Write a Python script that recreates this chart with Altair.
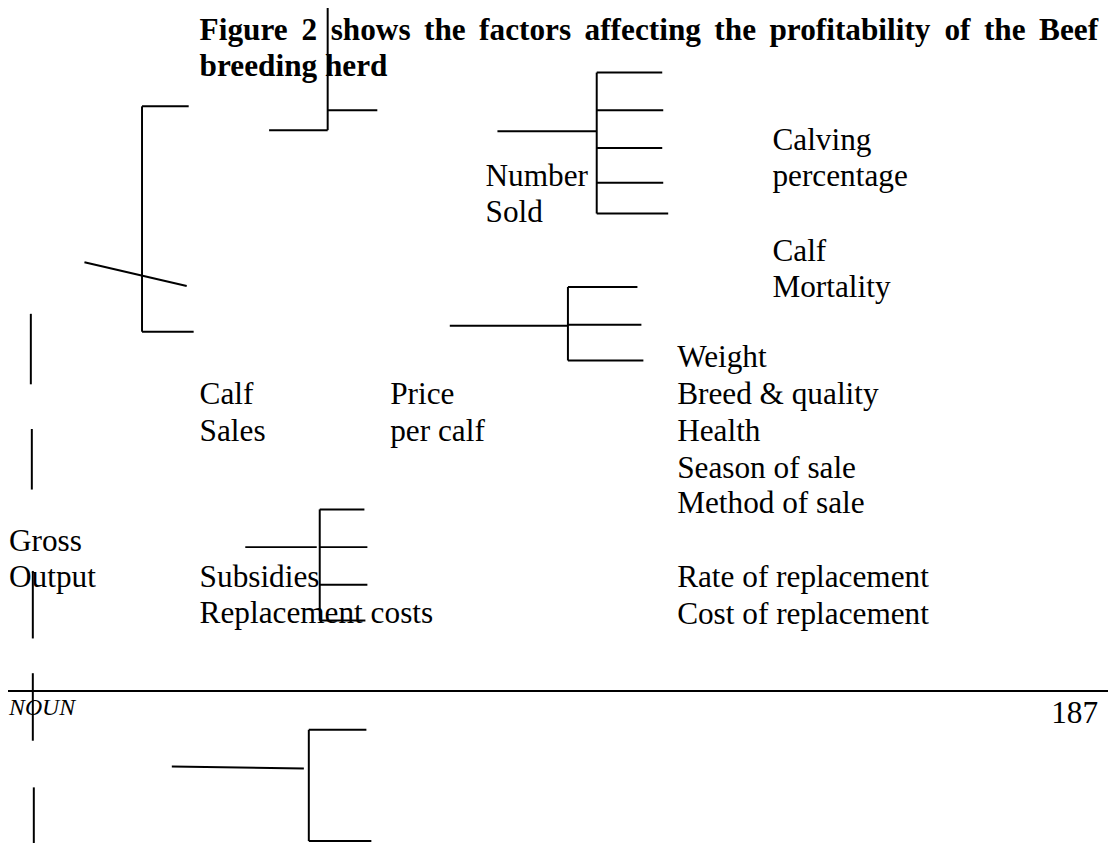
import altair as alt
import pandas as pd

# ---- line segments of the diagram (page pixel coordinates) ----
seg_x1 = [330, 271, 330, 143, 143, 143, 85,
          601, 601, 601, 601, 601, 601, 501,
          572, 572, 572, 572, 453,
          322, 322, 322, 322, 322, 247,
          311, 311, 311, 173,
          31, 32, 33, 33, 34,
          0]
seg_y1 = [0, 128, 108, 104, 104, 331, 261,
          70, 70, 108, 146, 181, 212, 129,
          286, 286, 324, 360, 325,
          510, 510, 548, 586, 622, 548,
          732, 732, 844, 769,
          313, 429, 572, 675, 790,
          693]
seg_x2 = [330, 330, 380, 143, 190, 195, 188,
          601, 667, 668, 667, 668, 673, 601,
          572, 642, 646, 648, 572,
          322, 367, 370, 370, 368, 319,
          311, 369, 374, 306,
          31, 32, 33, 33, 34,
          1116]
seg_y2 = [128, 128, 108, 331, 104, 331, 285,
          212, 70, 108, 146, 181, 212, 129,
          360, 286, 324, 360, 325,
          622, 510, 548, 586, 622, 548,
          844, 732, 844, 771,
          384, 490, 640, 743, 846,
          693]

# ---- labels ----
label_text = ["Number", "Sold", "Calving", "percentage", "Calf", "Mortality",
              "Weight", "Breed & quality", "Health", "Season of sale", "Method of sale",
              "Calf", "Sales", "Price", "per calf",
              "Gross", "Output", "Subsidies", "Replacement costs",
              "Rate of replacement", "Cost of replacement"]
label_x = [489, 489, 778, 778, 778, 778,
           682, 682, 682, 682, 682,
           201, 201, 393, 393,
           9, 9, 201, 201,
           682, 682]
label_y = [184, 221, 148, 184, 260, 296,
           367, 404, 441, 478, 514,
           404, 441, 404, 441,
           552, 588, 588, 624,
           588, 625]

title_line1 = "Figure 2 shows the factors affecting the profitability of the Beef"
title_line2 = "breeding herd"
footer_left = "NOUN"
footer_right = "187"

FS = 31.5
FONT = "Liberation Serif"

# Times-Bold advance widths (per 1000 em) to justify the first title line
TB = {'F': 611, 'i': 278, 'g': 500, 'u': 556, 'r': 444, 'e': 444, '2': 500, 's': 389,
      'h': 556, 'o': 500, 'w': 722, 't': 333, 'f': 333, 'a': 500, 'c': 444, 'n': 556,
      'p': 556, 'b': 556, 'l': 278, 'y': 500, 'B': 667, 'd': 556}
left, right = 201, 1106
words = title_line1.split(" ")
wwidth = [sum(TB.get(ch, 500) for ch in w) * FS / 1000 for w in words]
gap = (right - left - sum(wwidth)) / (len(words) - 1)
tx, cur = [], left
for w in wwidth:
    tx.append(cur)
    cur += w + gap
title_df = pd.DataFrame({"t": words + [title_line2],
                         "x": tx + [left],
                         "y": [37] * len(words) + [73]})

seg_df = pd.DataFrame({"x": seg_x1, "y": seg_y1, "x2": seg_x2, "y2": seg_y2})
lab_df = pd.DataFrame({"t": label_text, "x": label_x, "y": label_y})
foot_df = pd.DataFrame({"t": [footer_left], "x": [9], "y": [717]})
page_df = pd.DataFrame({"t": [footer_right], "x": [1106], "y": [725]})

xs = alt.Scale(domain=[8, 1116], nice=False, zero=False)
ys = alt.Scale(domain=[8, 846], nice=False, zero=False, reverse=True)
X = lambda: alt.X("x:Q", scale=xs, axis=None)
Y = lambda: alt.Y("y:Q", scale=ys, axis=None)

segs = alt.Chart(seg_df).mark_rule(color="black", strokeWidth=2).encode(
    x=X(), y=Y(), x2="x2:Q", y2="y2:Q")

labels = alt.Chart(lab_df).mark_text(font=FONT, fontSize=FS, align="left",
                                      baseline="alphabetic", color="black").encode(
    x=X(), y=Y(), text="t:N")

title = alt.Chart(title_df).mark_text(font=FONT, fontSize=FS, fontWeight="bold",
                                       align="left", baseline="alphabetic",
                                       color="black").encode(
    x=X(), y=Y(), text="t:N")

foot = alt.Chart(foot_df).mark_text(font=FONT, fontSize=24, fontStyle="italic",
                                     align="left", baseline="alphabetic",
                                     color="black").encode(
    x=X(), y=Y(), text="t:N")

page = alt.Chart(page_df).mark_text(font=FONT, fontSize=FS, align="right",
                                     baseline="alphabetic", color="black").encode(
    x=X(), y=Y(), text="t:N")

chart = alt.layer(segs, title, labels, foot, page).properties(
    width=1108, height=838, autosize=alt.AutoSizeParams(type="none"), padding=0,
    background="white"
).configure_view(stroke=None)

chart.save("out.html", embed_options={"renderer": "svg", "actions": False})
